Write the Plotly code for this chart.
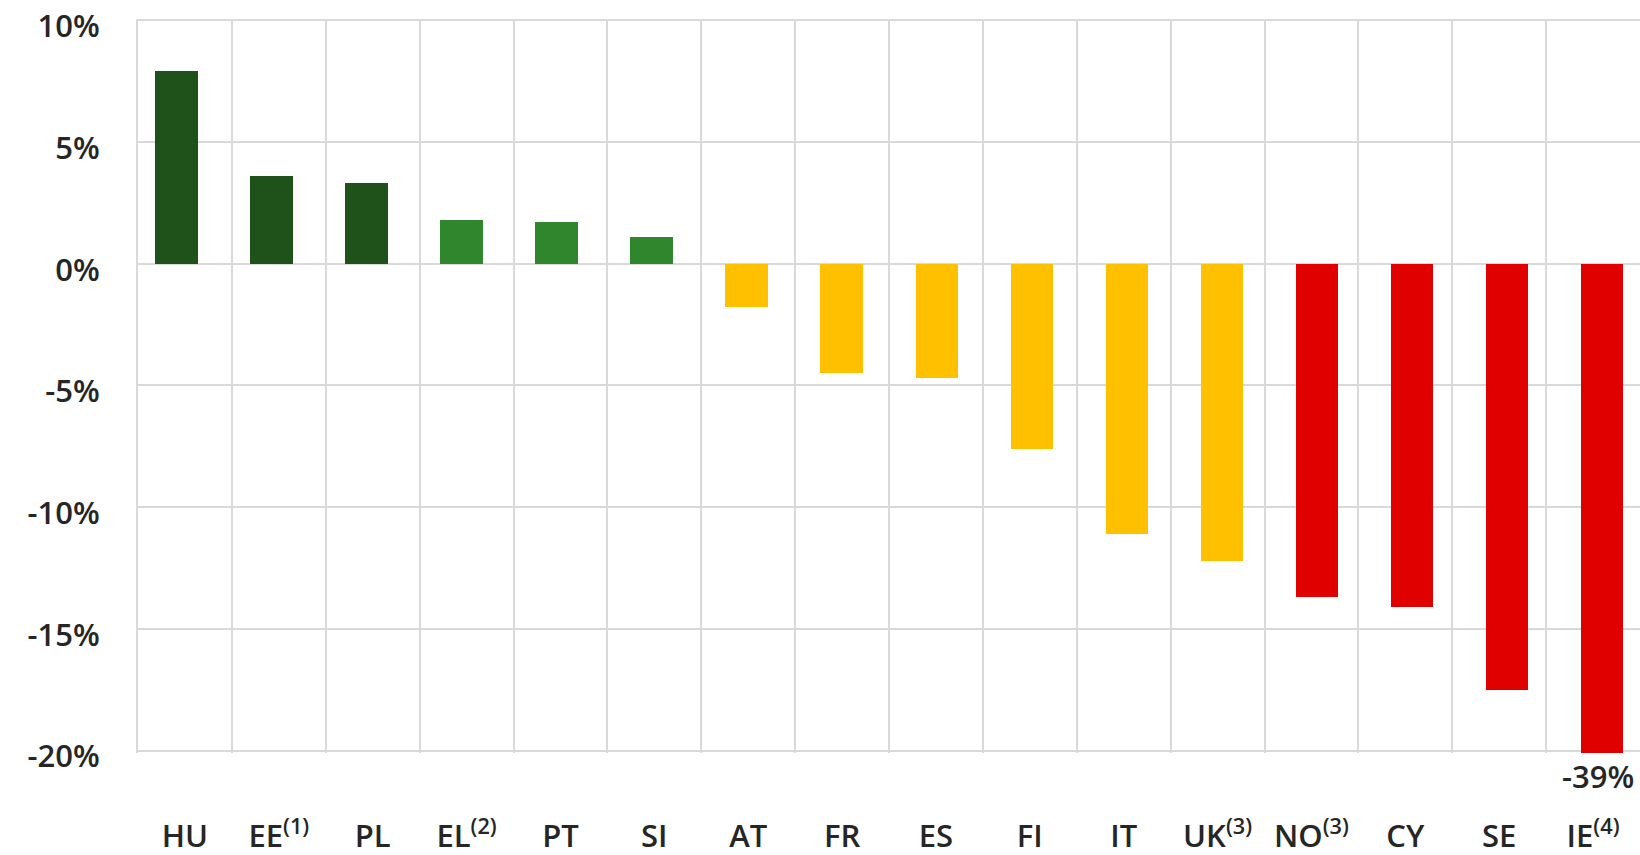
import plotly.graph_objects as go

countries = ["HU", "EE<sup>(1)</sup>", "PL", "EL<sup>(2)</sup>", "PT", "SI", "AT", "FR",
             "ES", "FI", "IT", "UK<sup>(3)</sup>", "NO<sup>(3)</sup>", "CY", "SE", "IE<sup>(4)</sup>"]
values = [7.9, 3.6, 3.3, 1.8, 1.7, 1.1, -1.8, -4.5, -4.7, -7.6, -11.1, -12.2, -13.7, -14.1, -17.5, -39.0]
groups = ["dark", "dark", "dark", "mid", "mid", "mid", "amber", "amber", "amber", "amber",
          "amber", "amber", "red", "red", "red", "red"]
y_ticks = [-20, -15, -10, -5, 0, 5, 10]
y_labels = ["-20%", "-15%", "-10%", "-5%", "0%", "5%", "10%"]

palette = {"dark": "#1f521b", "mid": "#2f862c", "amber": "#ffc000", "red": "#e00000"}
bar_colors = [palette[g] for g in groups]
idx = list(range(len(countries)))

fig = go.Figure()
# invisible carrier trace so the label / grid axis is drawn
fig.add_trace(go.Scatter(x=idx, y=[0] * len(idx), mode="markers", marker=dict(opacity=0),
                         hoverinfo="skip", showlegend=False, xaxis="x", yaxis="y"))
fig.add_trace(go.Bar(x=idx, y=values, marker=dict(color=bar_colors, line=dict(width=0)),
                     width=0.45, xaxis="x2", yaxis="y", showlegend=False, cliponaxis=True))

ymin, ymax = -20.1, 10.05
grid = "#d9d9d9"
font = dict(family="Open Sans", size=31, color="#262626", weight=600)

fig.update_layout(
    template="none",
    width=1640, height=855,
    margin=dict(l=138, r=0, t=19, b=102),
    paper_bgcolor="white", plot_bgcolor="white",
    font=font,
    xaxis=dict(range=[-0.5, 15.5], tickmode="array", tickvals=idx, ticktext=countries,
               showgrid=False, zeroline=False, showline=False, ticks="", automargin=False,
               ticklabelstandoff=62, tickfont=font,
               minor=dict(tickmode="linear", tick0=-0.5, dtick=1, showgrid=True,
                          gridcolor=grid, gridwidth=2, ticks="")),
    xaxis2=dict(range=[-0.408, 15.4], overlaying="x", visible=False, showgrid=False,
                automargin=False),
    yaxis=dict(range=[ymin, ymax], tickmode="array", tickvals=y_ticks, ticktext=y_labels,
               showgrid=True, gridcolor=grid, gridwidth=2, zeroline=True,
               zerolinecolor=grid, zerolinewidth=2, ticks="", ticklabelstandoff=30,
               ticklabelshift=6, ticklabeloverflow="allow", tickfont=font,
               showline=True, linecolor=grid, linewidth=2, automargin=False),
    bargap=0,
)

fig.add_annotation(x=idx[-1], y=ymin, xref="x2", yref="y", text=f"{values[-1]:.0f}%",
                   showarrow=False, yanchor="top", xanchor="right", xshift=34, yshift=0,
                   font=font)

fig.write_html("out.html", config={"displayModeBar": False},
               post_script="document.body.style.margin='0';document.body.style.overflow='hidden';")
